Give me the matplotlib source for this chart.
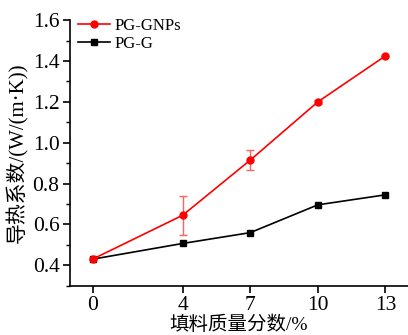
import matplotlib.pyplot as plt
from matplotlib.ticker import MultipleLocator

# data
filler = [0, 4, 7, 10, 13]
gnps = [0.43, 0.645, 0.915, 1.20, 1.425]
gnps_err = [0.0, 0.095, 0.05, 0.01, 0.0]
pg_g = [0.43, 0.507, 0.56, 0.696, 0.745]

plt.rcParams['font.family'] = ['Liberation Serif', 'Noto Sans CJK SC']
plt.rcParams['axes.unicode_minus'] = False

fig = plt.figure(figsize=(4.08, 3.35), dpi=100)
ax = fig.add_axes([0.1716, 0.147, 0.8284, 0.793])

ax.errorbar(filler, gnps, yerr=gnps_err, fmt='none', capsize=3, elinewidth=1,
            ecolor='#ff6060', zorder=3)
l1, = ax.plot(filler, gnps, color='#ff0000', marker='o', markersize=5,
              linewidth=1.2, label='PG-GNPs', zorder=4)
l2, = ax.plot(filler, pg_g, color='black', marker='s', markersize=4.5, linewidth=1.2,
              label='PG-G', zorder=2)

ax.set_xlim(-1, 14)
ax.set_ylim(0.3, 1.6)
ax.set_xticks(filler)
ax.yaxis.set_minor_locator(MultipleLocator(0.1))
ax.set_yticks([0.4, 0.6, 0.8, 1.0, 1.2, 1.4, 1.6])

for s in ['top', 'right']:
    ax.spines[s].set_visible(False)
for s in ['left', 'bottom']:
    ax.spines[s].set_linewidth(1.2)

ax.tick_params(axis='both', which='major', direction='out', length=5, width=1.2,
               labelsize=15.5, pad=2.5)
ax.tick_params(axis='y', which='minor', direction='out', length=3, width=1.0)

ax.set_xlabel('填料质量分数/%', fontsize=14, labelpad=0)
ax.set_ylabel('导热系数/(W/(m·K))', fontsize=15, labelpad=3)

ax.legend(handles=[l1, l2], loc='upper left', frameon=False, fontsize=12, handlelength=1.9,
          handletextpad=0.3, labelspacing=0.15, borderaxespad=0.1,
          bbox_to_anchor=(0.0, 1.04))

fig.savefig('out.png', dpi=100)
